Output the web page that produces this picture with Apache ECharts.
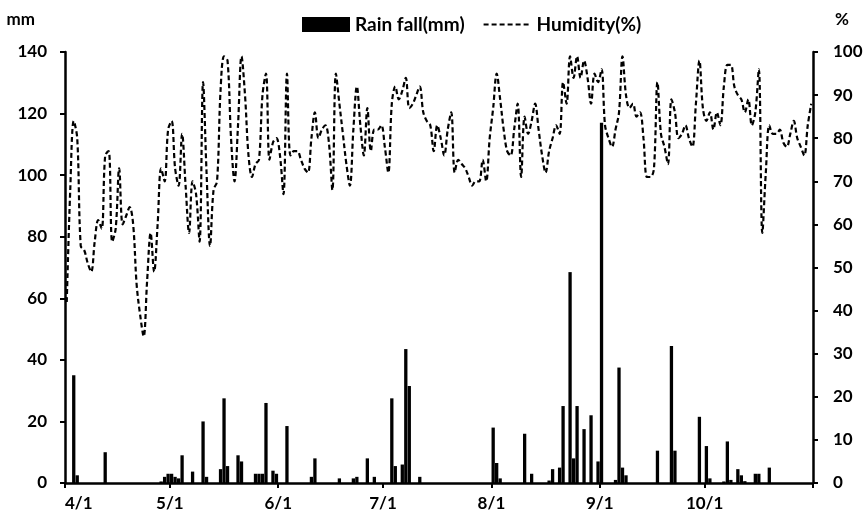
<!DOCTYPE html>
<html>
<head>
<meta charset="utf-8">
<script src="https://cdn.jsdelivr.net/npm/echarts@6/dist/echarts.min.js"></script>
<style>html,body{margin:0;padding:0;background:#fff}#c{width:867px;height:523px}</style>
</head>
<body>
<div id="c"></div>
<script>
// Day index 0 = 4/1 ... 213 = 10/31
const dayCount = 214;
const monthTickDays = [0, 30, 61, 91, 122, 153, 183];
const monthLabels = ['4/1', '5/1', '6/1', '7/1', '8/1', '9/1', '10/1'];
const rainDays = [2, 3, 11, 27, 28, 29, 30, 31, 32, 33, 36, 39, 40, 44, 45, 46, 49, 50, 54, 55, 56, 57, 59, 60, 63, 70, 71, 78, 82, 83, 86, 88, 93, 94, 96, 97, 98, 101,
  122, 123, 124, 131, 133, 138, 139, 141, 142, 144, 145, 146, 148, 150, 152, 153, 157, 158, 159, 160, 169, 173, 174, 181, 183, 184, 188, 189, 190, 192, 193, 194, 197, 198, 201];
const rainValues = [35, 2.5, 10, 0.5, 2, 3, 3, 2, 1.5, 9, 3.7, 20, 2, 4.5, 27.5, 5.5, 9, 7, 3, 3, 3, 26, 4, 3, 18.5, 2, 8, 1.5, 1.5, 2, 8, 2, 27.5, 5.5, 6, 43.5, 31.5, 2,
  18, 6.5, 1.5, 16, 3, 0.8, 4.5, 5, 25, 68.5, 8, 25, 17.5, 22, 7, 117, 1, 37.5, 5, 2.5, 10.5, 44.5, 10.5, 21.5, 12, 1.5, 0.5, 13.5, 1, 4.5, 2.5, 0.6, 3, 3, 5];
const humidity = [
  42, 68, 84, 80, 55, 54, 51, 49, 56, 61, 59, 76, 77, 56, 59, 73, 60, 62, 64, 60,
  46, 39, 34, 47, 58, 49, 60, 73, 70, 82, 84, 73, 69, 81, 69, 58, 70, 67, 56, 93,
  72, 55, 68, 70, 91, 99, 98, 80, 70, 83, 99, 90, 76, 71, 74, 75, 90, 95, 75, 79,
  80, 76, 67, 95, 76, 77, 77, 75, 73, 72, 80, 86, 80, 82, 83, 79, 68, 95, 88, 81,
  74, 69, 82, 92, 83, 76, 87, 77, 82, 82, 83, 78, 72, 88, 92, 89, 91, 94, 87, 88,
  90, 92, 86, 84, 83, 77, 83, 80, 76, 82, 86, 72, 75, 74, 73, 71, 69, 70, 70, 75,
  70, 80, 87, 95, 89, 82, 77, 76, 82, 88, 71, 85, 81, 84, 88, 82, 76, 72, 77, 80,
  83, 81, 93, 88, 99, 94, 99, 94, 98, 94, 88, 95, 93, 96, 83, 80, 78, 82, 86, 99,
  90, 87, 88, 85, 86, 80, 71, 71, 73, 93, 81, 78, 74, 89, 86, 80, 81, 83, 80, 78,
  88, 98, 87, 84, 86, 82, 86, 83, 92, 97, 97, 92, 90, 89, 86, 89, 83, 86, 96, 58,
  72, 83, 81, 81, 82, 79, 78, 81, 84, 80, 78, 76, 83, 88
];

const labelMap = {};
monthTickDays.forEach((d, i) => { labelMap[d] = monthLabels[i]; });
const rainData = rainDays.map((d, i) => [d + 0.5, rainValues[i]]);
const humData = humidity.map((h, i) => [i + 0.5, h]);

const FONT = 'Lato';
const axisFont = { color: '#000', fontFamily: FONT, fontWeight: 'bold', fontSize: 17 };

const chart = echarts.init(document.getElementById('c'), null, { renderer: 'canvas' });
chart.setOption({
  animation: false,
  backgroundColor: '#fff',
  grid: { left: 65, right: 54, top: 52, bottom: 40, containLabel: false },
  legend: {
    top: 10, left: 297,
    itemWidth: 48, itemHeight: 15, itemGap: 18,
    textStyle: { color: '#000', fontFamily: FONT, fontWeight: 'bold', fontSize: 19 },
    data: [
      { name: 'Rain fall(mm)', icon: 'rect' },
      { name: 'Humidity(%)', itemStyle: { opacity: 0 } }
    ]
  },
  xAxis: {
    type: 'value', min: 0, max: dayCount,
    axisLine: { show: true, lineStyle: { color: '#000', width: 2.5 } },
    axisTick: { show: true, customValues: monthTickDays.concat([dayCount]), length: 5, lineStyle: { color: '#000', width: 2 } },
    axisLabel: Object.assign({ customValues: monthTickDays, margin: 12, alignMinLabel: 'left', formatter: v => labelMap[v] || '' }, axisFont),
    splitLine: { show: false }
  },
  yAxis: [
    {
      type: 'value', min: 0, max: 140, interval: 20,
      name: 'mm', nameLocation: 'end', nameGap: 24,
      nameTextStyle: { color: '#000', fontFamily: FONT, fontWeight: 'bold', fontSize: 17, align: 'right', padding: [0, 30, 0, 0] },
      axisLine: { show: true, lineStyle: { color: '#000', width: 2.5 } },
      axisTick: { show: true, length: 5, lineStyle: { color: '#000', width: 2 } },
      axisLabel: Object.assign({ margin: 18 }, axisFont),
      splitLine: { show: false }
    },
    {
      type: 'value', min: 0, max: 100, interval: 10, position: 'right',
      name: '%', nameLocation: 'end', nameGap: 24,
      nameTextStyle: { color: '#000', fontFamily: FONT, fontWeight: 'bold', fontSize: 17, align: 'left', padding: [0, 0, 0, 22] },
      axisLine: { show: true, lineStyle: { color: '#000', width: 2.5 } },
      axisTick: { show: true, length: 5, lineStyle: { color: '#000', width: 2 } },
      axisLabel: Object.assign({ margin: 20 }, axisFont),
      splitLine: { show: false }
    }
  ],
  series: [
    {
      name: 'Rain fall(mm)', type: 'bar', yAxisIndex: 0, barWidth: 3.3,
      itemStyle: { color: '#000' },
      data: rainData
    },
    {
      name: 'Humidity(%)', type: 'line', yAxisIndex: 1,
      symbol: 'none', showSymbol: false, smooth: 0.35,
      lineStyle: { color: '#000', width: 2.2, type: [5, 3] },
      itemStyle: { color: '#000' },
      data: humData
    }
  ]
});
</script>
</body>
</html>
